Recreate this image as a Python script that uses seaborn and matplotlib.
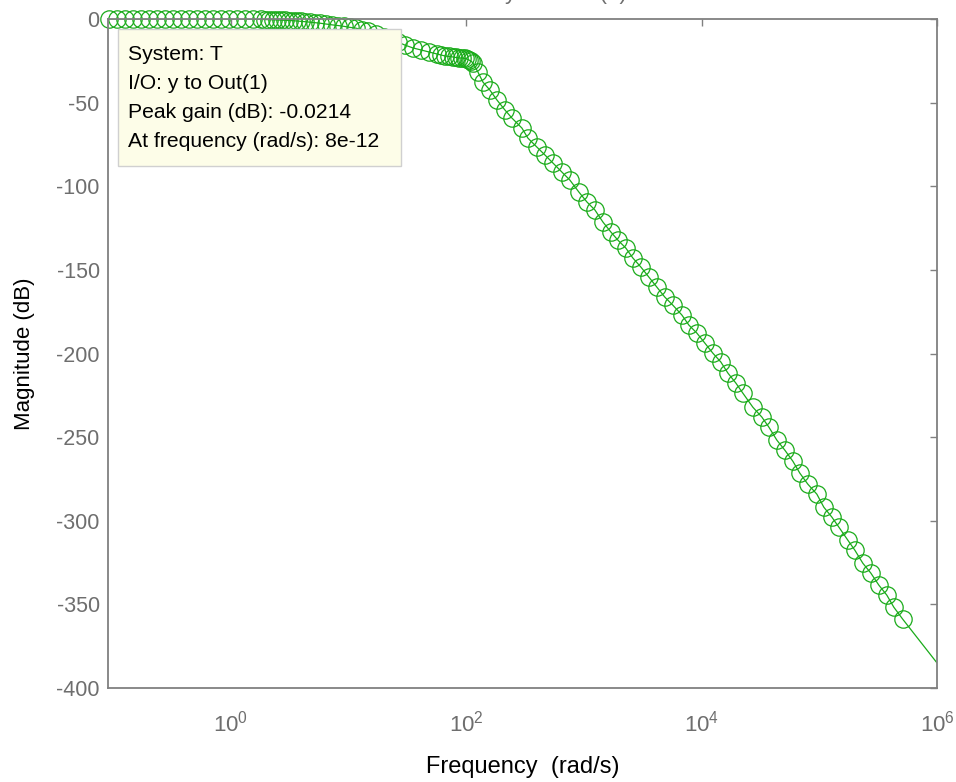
import numpy as np
import pandas as pd
import matplotlib
matplotlib.use("Agg")
import matplotlib.pyplot as plt
import seaborn as sns
from matplotlib.patches import Rectangle

# ========== data ==========
freq = [0.0919, 0.1075, 0.1257, 0.1470, 0.1718, 0.2009, 0.2350, 0.2748, 0.3214, 0.3758,
        0.4395, 0.5140, 0.6010, 0.7029, 0.8220, 0.9616, 1.125, 1.315, 1.538, 1.799,
        1.945, 2.103, 2.275, 2.460, 2.660, 2.876, 3.110, 3.363, 3.637, 3.933,
        4.253, 4.690, 5.171, 5.702, 6.412, 7.211, 8.110, 9.121, 10.26, 11.53,
        12.97, 14.59, 17.06, 19.95, 23.33, 26.24, 30.07, 35.17, 41.13, 48.10,
        56.25, 60.8, 65.8, 71.1, 76.9, 81.6, 86.5, 91.8, 97.3, 101.2,
        105.2, 109.4, 113.8, 125.5, 138.4, 158.6, 182.0, 212.8, 244.0, 296.8,
        333.6, 398.1, 465.6, 544.5, 648.6, 758.6, 905.7, 1059, 1239, 1449,
        1694, 1941, 2270, 2602, 3043, 3558, 4161, 4866, 5690, 6792,
        7785, 9105, 10650, 12450, 14560, 16710, 19540, 22390, 27230, 32460,
        37240, 43550, 50930, 59560, 68230, 79800, 95280, 109200, 127700, 146500,
        174600, 200400, 234300, 274000, 320500, 374800, 429700, 512000]

mag_db = [0.0, 0.0, 0.0, 0.0, 0.0, 0.0, 0.0, 0.0, 0.0, 0.0,
          0.0, 0.0, 0.0, 0.0, 0.0, 0.0, -0.05, -0.1, -0.15, -0.25,
          -0.3, -0.4, -0.5, -0.6, -0.7, -0.8, -0.9, -1.0, -1.2, -1.4,
          -1.6, -1.9, -2.2, -2.5, -3.0, -3.5, -3.9, -4.4, -5.0, -5.5,
          -6.3, -7.2, -9.0, -10.8, -12.6, -13.8, -15.6, -17.3, -18.5, -19.7,
          -20.9, -21.5, -22.1, -22.4, -22.7, -23.0, -23.3, -23.3, -23.6, -23.9,
          -24.5, -25.1, -26.3, -31.7, -37.7, -42.5, -48.4, -54.4, -59.2, -65.2,
          -71.2, -76.6, -81.3, -86.1, -91.5, -96.3, -103.5, -109.4, -114.2, -121.4,
          -127.4, -132.2, -137.0, -142.9, -148.3, -154.3, -160.3, -166.3, -171.1, -177.0,
          -183.0, -187.8, -193.8, -199.8, -205.1, -211.7, -217.7, -223.7, -232.1, -238.0,
          -244.0, -251.8, -257.8, -264.4, -271.5, -278.1, -284.1, -291.9, -297.8, -303.8,
          -311.6, -317.6, -325.4, -331.3, -338.5, -344.5, -351.7, -358.9]

# the solid line keeps going to the right edge after the last marker
line_end_freq = [1e6]
line_end_db = [-385.0]

x_ticks = [1e0, 1e2, 1e4, 1e6]
x_ticklabels = ["$10^{0}$", "$10^{2}$", "$10^{4}$", "$10^{6}$"]
y_ticks = [0, -50, -100, -150, -200, -250, -300, -350, -400]

tip_lines = ["System: T", "I/O: y to Out(1)", "Peak gain (dB): -0.0214",
             "At frequency (rad/s): 8e-12"]

# ========== style ==========
sns.set_theme(style="white")
plt.rcParams["font.family"] = ["Liberation Sans", "DejaVu Sans"]
plt.rcParams["mathtext.fontset"] = "custom"
plt.rcParams["mathtext.rm"] = "Liberation Sans"
plt.rcParams["mathtext.it"] = "Liberation Sans"
plt.rcParams["axes.unicode_minus"] = False

GREEN = "#1aab1a"
GREY = "#6e6e6e"
W, H = 956, 782

fig = plt.figure(figsize=(W / 100, H / 100), dpi=100)
ax = fig.add_axes([108 / W, 1 - 688 / H, 829 / W, 669 / H])

df_line = pd.DataFrame({"freq": freq + line_end_freq, "mag": mag_db + line_end_db})
df_mark = pd.DataFrame({"freq": freq, "mag": mag_db})

sns.lineplot(data=df_line, x="freq", y="mag", ax=ax, color=GREEN, lw=0.9,
             sort=False, estimator=None)
sns.lineplot(data=df_mark, x="freq", y="mag", ax=ax, color=GREEN, lw=0,
             marker="o", markersize=12.5, markerfacecolor="none",
             markeredgecolor=GREEN, markeredgewidth=0.9, sort=False,
             estimator=None, clip_on=False)

ax.set_xscale("log")
ax.set_xlim(10 ** -1.045, 1e6)
ax.set_ylim(-400, 0)
ax.set_xticks(x_ticks)
ax.set_xticklabels(x_ticklabels)
ax.set_yticks(y_ticks)
ax.xaxis.set_minor_locator(matplotlib.ticker.NullLocator())

for s in ax.spines.values():
    s.set_color("#808080")
    s.set_linewidth(1.3)
ax.tick_params(axis="both", direction="in", length=5, width=1, color="#808080",
               labelcolor=GREY, top=True, right=True, labelsize=15.5)
ax.tick_params(axis="x", pad=16, labelsize=16)
ax.tick_params(axis="y", pad=6)

ax.set_xlabel("Frequency  (rad/s)", fontsize=17, color="black", labelpad=14)
ax.set_ylabel("Magnitude (dB)", fontsize=16, color="black", labelpad=15)

# title is cut off at the top of the saved image
fig.text(627 / W, 1 + 1.5 / H, "From: y  To: Out(1)", ha="right", va="baseline",
         fontsize=16, color=GREY)

# data tip box
tip = Rectangle((118 / W, 1 - 166 / H), 283 / W, 137 / H, transform=fig.transFigure,
                facecolor="#fdfde8", edgecolor="#d0d0d0", lw=1, zorder=5)
fig.add_artist(tip)
for i, t in enumerate(tip_lines):
    fig.text(128 / W, 1 - (55 + i * 28.7) / H, t, ha="left", va="center",
             fontsize=15.2, color="black", zorder=6)

fig.savefig("out.png", dpi=100)
